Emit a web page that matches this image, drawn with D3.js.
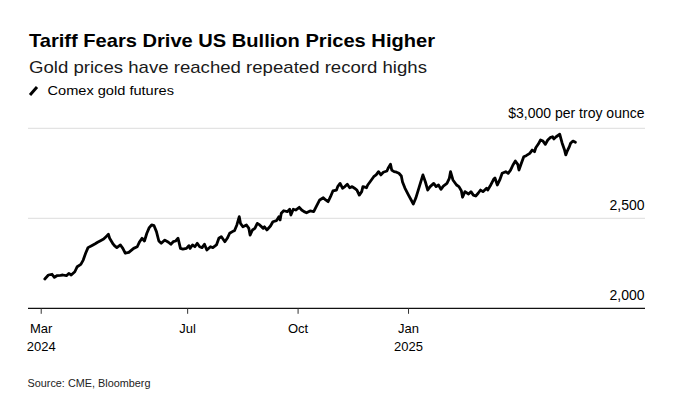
<!DOCTYPE html>
<html>
<head>
<meta charset="utf-8">
<script src="https://cdn.jsdelivr.net/npm/d3@7/dist/d3.min.js"></script>
<style>
  body { margin: 0; background: #fff; }
  svg { display: block; font-family: "Liberation Sans", Arial, sans-serif; }
</style>
</head>
<body>
<svg id="chart"></svg>
<script>
// Comex gold futures
const dates = [
  "2024-03-04","2024-03-07","2024-03-10","2024-03-12","2024-03-14","2024-03-17","2024-03-19","2024-03-22",
  "2024-03-24","2024-03-26","2024-03-29","2024-03-31","2024-04-03","2024-04-05","2024-04-07","2024-04-09",
  "2024-04-12","2024-04-15","2024-04-17","2024-04-19","2024-04-22","2024-04-24","2024-04-26","2024-04-27",
  "2024-04-30","2024-05-01","2024-05-03","2024-05-06","2024-05-08","2024-05-10","2024-05-13","2024-05-17",
  "2024-05-20","2024-05-22","2024-05-24","2024-05-26","2024-05-28","2024-05-30","2024-06-01","2024-06-03",
  "2024-06-05","2024-06-07","2024-06-09","2024-06-12","2024-06-15","2024-06-17","2024-06-19","2024-06-21",
  "2024-06-23","2024-06-25","2024-06-27","2024-06-30","2024-07-02","2024-07-03","2024-07-05","2024-07-07",
  "2024-07-09","2024-07-11","2024-07-13","2024-07-15","2024-07-17","2024-07-20","2024-07-22","2024-07-25",
  "2024-07-27","2024-07-29","2024-07-30","2024-08-01","2024-08-03","2024-08-05","2024-08-08","2024-08-09",
  "2024-08-11","2024-08-13","2024-08-14","2024-08-16","2024-08-19","2024-08-21","2024-08-22","2024-08-24",
  "2024-08-26","2024-08-28","2024-08-30","2024-09-02","2024-09-03","2024-09-05","2024-09-08","2024-09-10",
  "2024-09-13","2024-09-15","2024-09-16","2024-09-17","2024-09-19","2024-09-22","2024-09-24","2024-09-25",
  "2024-09-27","2024-09-29","2024-10-02","2024-10-04","2024-10-06","2024-10-08","2024-10-11","2024-10-14",
  "2024-10-16","2024-10-19","2024-10-22","2024-10-24","2024-10-26","2024-10-28","2024-10-30","2024-11-02",
  "2024-11-03","2024-11-05","2024-11-07","2024-11-09","2024-11-11","2024-11-13","2024-11-15","2024-11-17",
  "2024-11-19","2024-11-21","2024-11-23","2024-11-24","2024-11-27","2024-11-28","2024-11-30","2024-12-03",
  "2024-12-05","2024-12-07","2024-12-09","2024-12-11","2024-12-14","2024-12-15","2024-12-17","2024-12-18",
  "2024-12-20","2024-12-22","2024-12-24","2024-12-26","2024-12-27","2024-12-29","2025-01-01","2025-01-04",
  "2025-01-05","2025-01-07","2025-01-10","2025-01-13","2025-01-15","2025-01-17","2025-01-19","2025-01-22",
  "2025-01-24","2025-01-26","2025-01-28","2025-01-30","2025-02-02","2025-02-04","2025-02-05","2025-02-07",
  "2025-02-10","2025-02-12","2025-02-14","2025-02-15","2025-02-17","2025-02-20","2025-02-22","2025-02-24",
  "2025-02-26","2025-02-28","2025-03-02","2025-03-04","2025-03-07","2025-03-08","2025-03-10","2025-03-13",
  "2025-03-14","2025-03-16","2025-03-18","2025-03-20","2025-03-23","2025-03-25","2025-03-27","2025-03-29",
  "2025-03-31","2025-04-02","2025-04-03","2025-04-05","2025-04-07","2025-04-09","2025-04-12","2025-04-14",
  "2025-04-16","2025-04-17","2025-04-19","2025-04-21","2025-04-23","2025-04-25","2025-04-27","2025-04-29",
  "2025-05-01","2025-05-02","2025-05-04","2025-05-07","2025-05-08","2025-05-09","2025-05-11","2025-05-12",
  "2025-05-13","2025-05-15","2025-05-16","2025-05-18","2025-05-20"
]
const prices = [
  2163,2185,2189,2172,2181,2183,2185,2181,2194,2185,2203,2231,2244,2268,2306,2337,
  2348,2359,2367,2374,2385,2398,2411,2389,2356,2348,2337,2352,2333,2306,2311,2333,
  2342,2370,2389,2374,2417,2448,2463,2459,2426,2374,2361,2379,2367,2356,2370,2374,
  2389,2333,2329,2333,2348,2333,2352,2342,2361,2342,2337,2356,2324,2342,2337,2352,
  2389,2398,2389,2370,2389,2417,2429,2431,2463,2509,2472,2453,2463,2444,2407,2435,
  2444,2472,2463,2444,2453,2435,2457,2481,2487,2509,2491,2528,2542,2537,2550,2518,
  2550,2546,2561,2546,2537,2531,2541,2537,2564,2602,2614,2602,2592,2620,2652,2657,
  2676,2694,2667,2676,2689,2670,2676,2667,2657,2629,2648,2676,2670,2685,2703,2731,
  2741,2759,2741,2756,2763,2778,2800,2768,2759,2756,2750,2735,2702,2668,2629,2592,
  2579,2611,2676,2741,2703,2657,2676,2694,2676,2685,2661,2679,2694,2722,2759,2713,
  2685,2676,2653,2617,2648,2635,2648,2629,2624,2639,2657,2648,2667,2657,2679,2718,
  2724,2685,2713,2750,2759,2750,2768,2796,2818,2800,2768,2806,2842,2848,2861,2879,
  2870,2892,2911,2935,2929,2911,2935,2948,2953,2941,2953,2967,2941,2917,2879,2852,
  2870,2898,2917,2929,2922
]

const xTicks = ["2024-03-01", "2024-07-01", "2024-10-01", "2025-01-01"]
const xTickMonths = ["Mar", "Jul", "Oct", "Jan"]
const xTickYears = ["2024", "", "", "2025"]
const yTicks = [2000, 2500, 3000]
const yTickLabels = ["2,000", "2,500", "$3,000 per troy ounce"]

const width = 674, height = 397
const plot = { left: 28, right: 645, top: 128.3, bottom: 308.3 }

const svg = d3.select('#chart')
    .attr('width', width)
    .attr('height', height)

const parse = d3.utcParse('%Y-%m-%d')
const data = dates.map((d, i) => ({ date: parse(d), value: prices[i] }))

const x = d3.scaleUtc()
    .domain([parse('2024-02-19'), parse('2025-07-17')])
    .range([plot.left, plot.right])

const y = d3.scaleLinear()
    .domain([2000, 3000])
    .range([plot.bottom, plot.top])

// squeeze text to the width it has in the reference
const fit = (sel, w) => {
    const len = sel.node().getComputedTextLength()
    if (Math.abs(len - w) > 1.5) sel.attr('textLength', w).attr('lengthAdjust', 'spacingAndGlyphs')
}

// header
const title = svg.append('text')
    .attr('x', 29).attr('y', 46.7)
    .attr('font-size', 19).attr('font-weight', 700).attr('fill', '#000')
    .text('Tariff Fears Drive US Bullion Prices Higher')
fit(title, 406)

const subtitle = svg.append('text')
    .attr('x', 29).attr('y', 72.8)
    .attr('font-size', 17).attr('fill', '#1a1a1a')
    .text('Gold prices have reached repeated record highs')
fit(subtitle, 398)

svg.append('line')
    .attr('x1', 30).attr('y1', 95).attr('x2', 37).attr('y2', 87)
    .attr('stroke', '#000').attr('stroke-width', 3).attr('stroke-linecap', 'butt')

const legend = svg.append('text')
    .attr('x', 47.5).attr('y', 95)
    .attr('font-size', 13).attr('fill', '#000')
    .text('Comex gold futures')
fit(legend, 126.5)

// gridlines + y labels
const yAxis = svg.append('g').attr('class', 'axis y')

yAxis.selectAll('line.grid')
    .data(yTicks.filter(d => d !== 2000))
    .join('line')
    .attr('class', 'grid')
    .attr('x1', plot.left).attr('x2', plot.right)
    .attr('y1', d => y(d)).attr('y2', d => y(d))
    .attr('stroke', '#dcdcdc').attr('stroke-width', 1)

yAxis.selectAll('text')
    .data(yTicks)
    .join('text')
    .attr('x', 644.5)
    .attr('y', d => y(d) - (d === 3000 ? 10 : 8.5))
    .attr('text-anchor', 'end')
    .attr('font-size', 14).attr('fill', '#000')
    .text((d, i) => yTickLabels[i])

// x axis
svg.append('line')
    .attr('x1', plot.left).attr('x2', plot.right)
    .attr('y1', y(2000)).attr('y2', y(2000))
    .attr('stroke', '#111').attr('stroke-width', 1.2)

const xAxis = svg.append('g').attr('class', 'axis x')
const tickG = xAxis.selectAll('g')
    .data(xTicks)
    .join('g')
    .attr('transform', d => `translate(${x(parse(d))},${y(2000)})`)

tickG.append('line')
    .attr('y1', 0).attr('y2', 5.5)
    .attr('stroke', '#333').attr('stroke-width', 1)

tickG.append('text')
    .attr('y', 25).attr('text-anchor', 'middle')
    .attr('font-size', 13).attr('fill', '#000')
    .text((d, i) => xTickMonths[i])

tickG.append('text')
    .attr('y', 42.5).attr('text-anchor', 'middle')
    .attr('font-size', 13).attr('fill', '#000')
    .text((d, i) => xTickYears[i])

// the line
const line = d3.line()
    .x(d => x(d.date))
    .y(d => y(d.value))

svg.append('path')
    .datum(data)
    .attr('d', line)
    .attr('fill', 'none')
    .attr('stroke', '#000')
    .attr('stroke-width', 2.8)
    .attr('stroke-linejoin', 'round')
    .attr('stroke-linecap', 'round')

// footer
const source = svg.append('text')
    .attr('x', 27.5).attr('y', 387.3)
    .attr('font-size', 11).attr('fill', '#222')
    .text('Source: CME, Bloomberg')
fit(source, 123)
</script>
</body>
</html>
